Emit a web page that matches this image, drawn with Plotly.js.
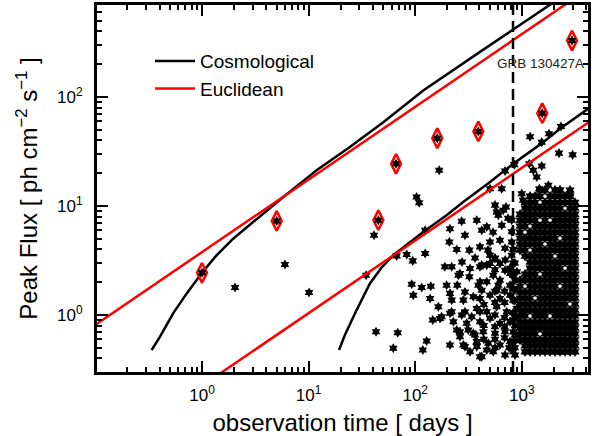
<!DOCTYPE html>
<html><head><meta charset="utf-8">
<script src="https://cdn.plot.ly/plotly-3.0.1.min.js"></script>
<style>html,body{margin:0;padding:0;background:#fff}#chart{width:592px;height:436px}</style>
</head><body><div id="chart"></div>
<script>
// ---------- data ----------
// Cosmological model curves (observation time [days], peak flux)
const cosmoUpperT = [0.337, 0.404, 0.538, 0.719, 1.0, 1.374, 1.97, 3.03, 4.05, 5.79, 11.9, 24.4, 50.2, 119, 503, 1033, 2125, 4300];
const cosmoUpperF = [0.478, 0.633, 1.04, 1.58, 2.44, 3.54, 5.04, 7.15, 9.15, 12.1, 21.3, 34.8, 58.9, 115, 300, 480, 770, 1230];
const cosmoLowerT = [19.3, 21.9, 28.2, 37.6, 47.8, 62.3, 119, 197, 282, 503, 832, 1592, 2280, 4360];
const cosmoLowerF = [0.478, 0.656, 1.11, 1.95, 2.69, 3.54, 5.79, 8.24, 10.9, 16.6, 24.5, 38.6, 51.3, 80.3];
// Euclidean model lines
const euclUpperT = [0.1, 4300];
const euclUpperF = [0.814, 1000];
const euclLowerT = [1.0, 4300];
const euclLowerF = [0.224, 59.3];

// highlighted bursts (diamonds)
const hiT = [1.0, 5.02, 45.1, 66.1, 161, 391, 1556, 2958];
const hiF = [2.44, 7.30, 7.41, 24.4, 41.9, 48.4, 71.1, 330];

// individual bursts (stars) outside the dense block
const starT = [2.04, 6.0, 10.1, 41.1, 34.6, 42.9, 62.3, 68.5, 67.0, 83.2, 94.8, 124, 124, 92.7, 96, 115, 140, 138, 165, 146, 128, 118, 177, 168, 103, 109,
  212, 273, 378, 293, 209, 245, 322, 469, 421, 2234, 3000, 851, 696, 1538, 2333, 1799, 1194, 1175, 1538, 1282, 1380, 503, 648, 998, 1026, 711, 581, 1459, 1774, 2280, 2833, 670, 602, 648, 624, 804, 804, 804, 804, 503, 405, 503, 696, 863, 624,
  190, 220, 263, 327, 322, 405, 469, 248, 212, 293, 220, 283, 351, 421, 405, 171, 212, 273, 339, 405, 245, 315, 263, 364, 212, 293, 378, 405, 469,
  254, 421, 503, 624, 197, 391, 469, 540, 602, 775, 405, 503, 624, 775, 220, 293, 378, 469, 581, 722, 896, 228, 304, 405, 503, 624, 775, 263, 351, 435, 561, 696, 863, 283, 378, 485, 624, 775, 327, 421, 540, 696, 863,
  560, 700, 860, 560, 780, 900, 560, 690, 860, 560, 690, 860, 560, 690, 860, 560, 690, 860, 560, 690, 860, 560, 760, 860, 440, 440, 440,
  561, 743, 537, 696, 561, 775, 585, 482, 364, 275,
  830, 830, 830, 830, 830, 830, 830, 830, 830, 830];
const starF = [1.79, 2.91, 1.61, 5.40, 2.32, 0.703, 0.496, 0.688, 3.49, 3.60, 3.14, 3.67, 6.0, 1.92, 1.52, 1.79, 1.84, 1.42, 1.19, 0.90, 0.578, 0.478, 0.965, 21.3, 12.1, 10.7,
  6.2, 7.25, 7.41, 5.40, 4.69, 4.0, 3.94, 6.44, 6.0, 30.6, 29.5, 24.0, 21.0, 38.6, 53.7, 46, 43.3, 24.4, 23.3, 21.3, 18.5, 14.4, 14.4, 13.0, 11.3, 9.8, 8.83, 14.4, 15.5, 14.0, 13.0, 9.15, 8.24, 6.67, 4.86, 4.69, 3.54, 7.41, 5.8, 4.69, 4.22, 3.54, 2.58, 2.09, 2.09,
  2.77, 2.77, 2.41, 2.67, 2.24, 2.77, 2.87, 1.88, 1.58, 1.63, 1.37, 1.37, 1.47, 1.69, 2.02, 0.93, 1.04, 1.0, 0.965, 1.07, 0.729, 0.729, 0.633, 0.656, 0.531, 0.513, 0.513, 0.415, 0.478,
  2.32, 2.87, 2.97, 2.97, 1.88, 1.88, 2.02, 2.32, 1.88, 1.88, 1.42, 1.52, 1.42, 1.52, 1.07, 1.07, 1.15, 1.07, 1.19, 1.07, 1.15, 0.868, 0.84, 0.868, 0.933, 0.84, 0.868, 0.703, 0.68, 0.703, 0.68, 0.703, 0.656, 0.531, 0.57, 0.55, 0.531, 0.57, 0.46, 0.415, 0.46, 0.43, 0.43,
  3.3, 3.2, 3.0, 2.6, 2.4, 2.5, 1.65, 1.65, 1.7, 1.3, 1.3, 1.35, 1.0, 0.95, 0.95, 0.78, 0.78, 0.8, 0.6, 0.62, 0.58, 0.5, 0.5, 0.5, 1.25, 0.8, 0.6,
  10.2, 7.73, 5.75, 4.1, 3.33, 2.69, 1.69, 3.94, 3.33, 3.06,
  4.0, 3.0, 2.3, 1.75, 1.37, 1.05, 0.9, 0.7, 0.53, 0.46];

// dense block of bursts: column times, row fluxes, and which cells are filled
const blockT = [962, 1072, 1194, 1330, 1482, 1651, 1840, 2049, 2283, 2543, 2833, 3156];
const blockF = [14.0, 12.3, 10.8, 9.55, 8.41, 7.41, 6.53, 5.75, 5.07, 4.47, 3.94, 3.47, 3.06, 2.69, 2.37, 2.09, 1.84, 1.62, 1.43, 1.26, 1.11, 0.98, 0.86, 0.76, 0.67, 0.59, 0.52, 0.46];
const blockMask = [
  "000011011010",
  "001110111110",
  "011101111111",
  "011111111011",
  "111111111111",
  "111101011111",
  "110111111111",
  "101111111111",
  "111111110111",
  "111110111111",
  "110111111111",
  "011111101111",
  "001111111111",
  "001111111011",
  "011101111111",
  "111111111111",
  "101111110111",
  "111111111111",
  "111011111111",
  "111111111101",
  "111111111111",
  "110111011111",
  "111111111111",
  "111111111111",
  "111101111111",
  "111111111111",
  "011111111111",
  "011111111111"
];

// GRB 130427A marker
const grbT = 827;
const grbLabel = 'GRB 130427A';
const grbLabelT = 1482, grbLabelF = 203;

// axis ticks
const xTickVals = [1, 10, 100, 1000];
const xTickText = ['10<sup>0</sup>', '10<sup>1</sup>', '10<sup>2</sup>', '10<sup>3</sup>'];
const yTickVals = [1, 10, 100];
const yTickText = ['10<sup>0</sup>', '10<sup>1</sup>', '10<sup>2</sup>'];

// ---------- build ----------
const FONT = 'Liberation Sans, Arial, Helvetica, sans-serif';
const blockXs = [], blockYs = [];
blockMask.forEach((row, i) => {
  for (let j = 0; j < row.length; j++) {
    if (row[j] === '1') { blockXs.push(blockT[j]); blockYs.push(blockF[i]); }
  }
});
function minorTicks(decades) {
  const out = [];
  decades.forEach(d => { for (let m = 2; m <= 9; m++) out.push(m * d); });
  return out;
}
const xMinor = minorTicks([0.1, 1, 10, 100, 1000]);
const yMinor = minorTicks([0.1, 1, 10, 100]);

const starMarker = {symbol: 'hexagram', size: 7.6, color: '#000', line: {width: 0}};
const traces = [
  {x: starT, y: starF, type: 'scatter', mode: 'markers', marker: starMarker, showlegend: false, hoverinfo: 'skip'},
  {x: blockXs, y: blockYs, type: 'scatter', mode: 'markers', showlegend: false, hoverinfo: 'skip',
   marker: {symbol: 'hexagram', size: 8, color: '#000', line: {width: 0}}},
  {x: cosmoUpperT, y: cosmoUpperF, type: 'scatter', mode: 'lines', name: 'Cosmological', legendgroup: 'c', legendrank: 1,
   line: {color: '#000', width: 2.5}},
  {x: cosmoLowerT, y: cosmoLowerF, type: 'scatter', mode: 'lines', name: 'Cosmological', legendgroup: 'c', showlegend: false,
   line: {color: '#000', width: 2.5}},
  {x: euclUpperT, y: euclUpperF, type: 'scatter', mode: 'lines', name: 'Euclidean', legendgroup: 'e', legendrank: 2,
   line: {color: '#ff0000', width: 2.5}},
  {x: euclLowerT, y: euclLowerF, type: 'scatter', mode: 'lines', name: 'Euclidean', legendgroup: 'e', showlegend: false,
   line: {color: '#ff0000', width: 2.5}},
  {x: hiT, y: hiF, type: 'scatter', mode: 'markers', showlegend: false, hoverinfo: 'skip',
   marker: {symbol: 'diamond-tall-open', size: 14, color: '#ff0000', line: {color: '#ff0000', width: 2.6}}},
  {x: hiT, y: hiF, type: 'scatter', mode: 'markers', showlegend: false, hoverinfo: 'skip', marker: starMarker}
];

const axisCommon = {
  type: 'log', showgrid: false, zeroline: false,
  showline: true, linecolor: '#000', linewidth: 3, mirror: 'allticks',
  ticks: 'inside', ticklen: 11, tickwidth: 2, tickcolor: '#000',
  tickmode: 'array', tickfont: {family: FONT, size: 17, color: '#000'},
  minor: {ticks: 'inside', ticklen: 5, tickwidth: 2, tickcolor: '#000', showgrid: false, tickmode: 'array'},
  automargin: false
};

const layout = {
  width: 592, height: 436,
  margin: {l: 97, r: 4, t: 5, b: 64, pad: 0},
  paper_bgcolor: '#fff', plot_bgcolor: '#fff',
  font: {family: FONT, color: '#000', size: 17},
  showlegend: true,
  legend: {x: 0.108, y: 0.899, xanchor: 'left', yanchor: 'top', bgcolor: 'rgba(0,0,0,0)', borderwidth: 0,
           font: {family: FONT, size: 19, color: '#000'}, itemwidth: 40, tracegroupgap: 0},
  xaxis: Object.assign({}, axisCommon, {
    range: [-0.985, 3.621], tickvals: xTickVals, ticktext: xTickText, ticklabelstandoff: 6,
    minor: Object.assign({}, axisCommon.minor, {tickvals: xMinor}),
    title: {text: 'observation time [ days ]', font: {family: FONT, size: 24, color: '#000'}, standoff: 10}
  }),
  yaxis: Object.assign({}, axisCommon, {
    range: [Math.log10(0.3), Math.log10(700)], tickvals: yTickVals, ticktext: yTickText, ticklabelstandoff: 8,
    minor: Object.assign({}, axisCommon.minor, {tickvals: yMinor}),
    title: {text: 'Peak Flux [ ph cm<sup>\u22122</sup> s<sup>\u22121</sup> ]', font: {family: FONT, size: 24, color: '#000'}, standoff: 13}
  }),
  shapes: [
    {type: 'line', xref: 'x', yref: 'paper', x0: grbT, x1: grbT, y0: 0, y1: 1,
     line: {color: '#000', width: 2.5, dash: '11px,6px'}, layer: 'above'}
  ],
  annotations: [
    {xref: 'x', yref: 'y', x: Math.log10(grbLabelT), y: Math.log10(grbLabelF), text: grbLabel, showarrow: false,
     font: {family: FONT, size: 13.5, color: '#222'}, xanchor: 'center', yanchor: 'middle', bgcolor: 'rgba(0,0,0,0)'}
  ]
};

Plotly.newPlot('chart', traces, layout, {staticPlot: true, displayModeBar: false});
</script></body></html>
